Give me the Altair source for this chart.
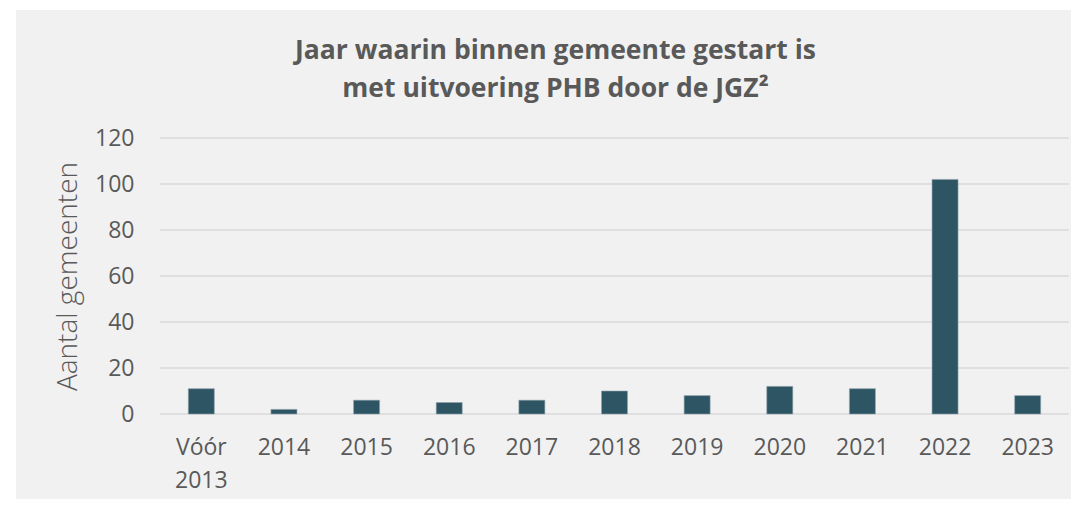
import altair as alt
import pandas as pd

categories = ["Vóór 2013", "2014", "2015", "2016", "2017", "2018", "2019", "2020", "2021", "2022", "2023"]
values = [11, 2, 6, 5, 6, 10, 8, 12, 11, 102, 8]
y_ticks = [0, 20, 40, 60, 80, 100, 120]

df = pd.DataFrame({"jaar": categories, "aantal": values})
grid_df = pd.DataFrame({"v": y_ticks})

W, H = 909, 276
PL, PT, PR, PB = 152, 130, 2, 85
FONT = "Open Sans"
GREY = "#595959"

yscale = alt.Scale(domain=[0, 120], nice=False)
yaxis = alt.Axis(
    title="Aantal gemeenten",
    titleFont=FONT,
    titleFontSize=28,
    titleFontWeight=300,
    titleColor=GREY,
    titlePadding=12,
    values=y_ticks,
    labelFont=FONT,
    labelFontSize=23,
    labelColor=GREY,
    labelPadding=26,
    domain=False,
    ticks=False,
    grid=False,
    zindex=1,
)

panel = alt.Chart(pd.DataFrame({"p": [0]})).mark_rect(color="#f1f1f1").encode(
    x=alt.value(16 - 8 - PL),
    x2=alt.value(W + PR),
    y=alt.value(10 - 8 - PT),
    y2=alt.value(H + PB),
)

grid = alt.Chart(grid_df).mark_rule(color="#d9d9d9", strokeWidth=1.5).encode(
    y=alt.Y("v:Q", scale=yscale, axis=yaxis),
    x=alt.value(0),
    x2=alt.value(W),
)

bars = alt.Chart(df).mark_bar(
    size=26, color="#2e5564", stroke="#8fa3ad", strokeWidth=0.6
).encode(
    x=alt.X(
        "jaar:N",
        sort=categories,
        scale=alt.Scale(paddingInner=0, paddingOuter=0),
        axis=alt.Axis(
            title=None,
            labelAngle=0,
            labelFont=FONT,
            labelFontSize=23,
            labelColor=GREY,
            labelPadding=22,
            labelLineHeight=33,
            labelExpr="split(datum.label, ' ')",
            domain=False,
            ticks=False,
            grid=False,
            zindex=1,
        ),
    ),
    y=alt.Y("aantal:Q", scale=yscale, axis=yaxis),
)

chart = alt.layer(panel, grid, bars).properties(
    width=W,
    height=H,
    autosize=alt.AutoSizeParams(type="none"),
    padding={"left": PL, "top": PT, "right": PR, "bottom": PB},
    background="white",
    title=alt.TitleParams(
        text=["Jaar waarin binnen gemeente gestart is", "met uitvoering PHB door de JGZ²"],
        font=FONT,
        fontSize=26.5,
        fontWeight="bold",
        color=GREY,
        lineHeight=38,
        anchor="middle",
        frame="group",
        baseline="top",
        dx=-59,
        offset=-92,
        zindex=1,
    ),
).configure_view(stroke=None)

chart.save("out.html", embed_options={"renderer": "svg", "actions": False})
